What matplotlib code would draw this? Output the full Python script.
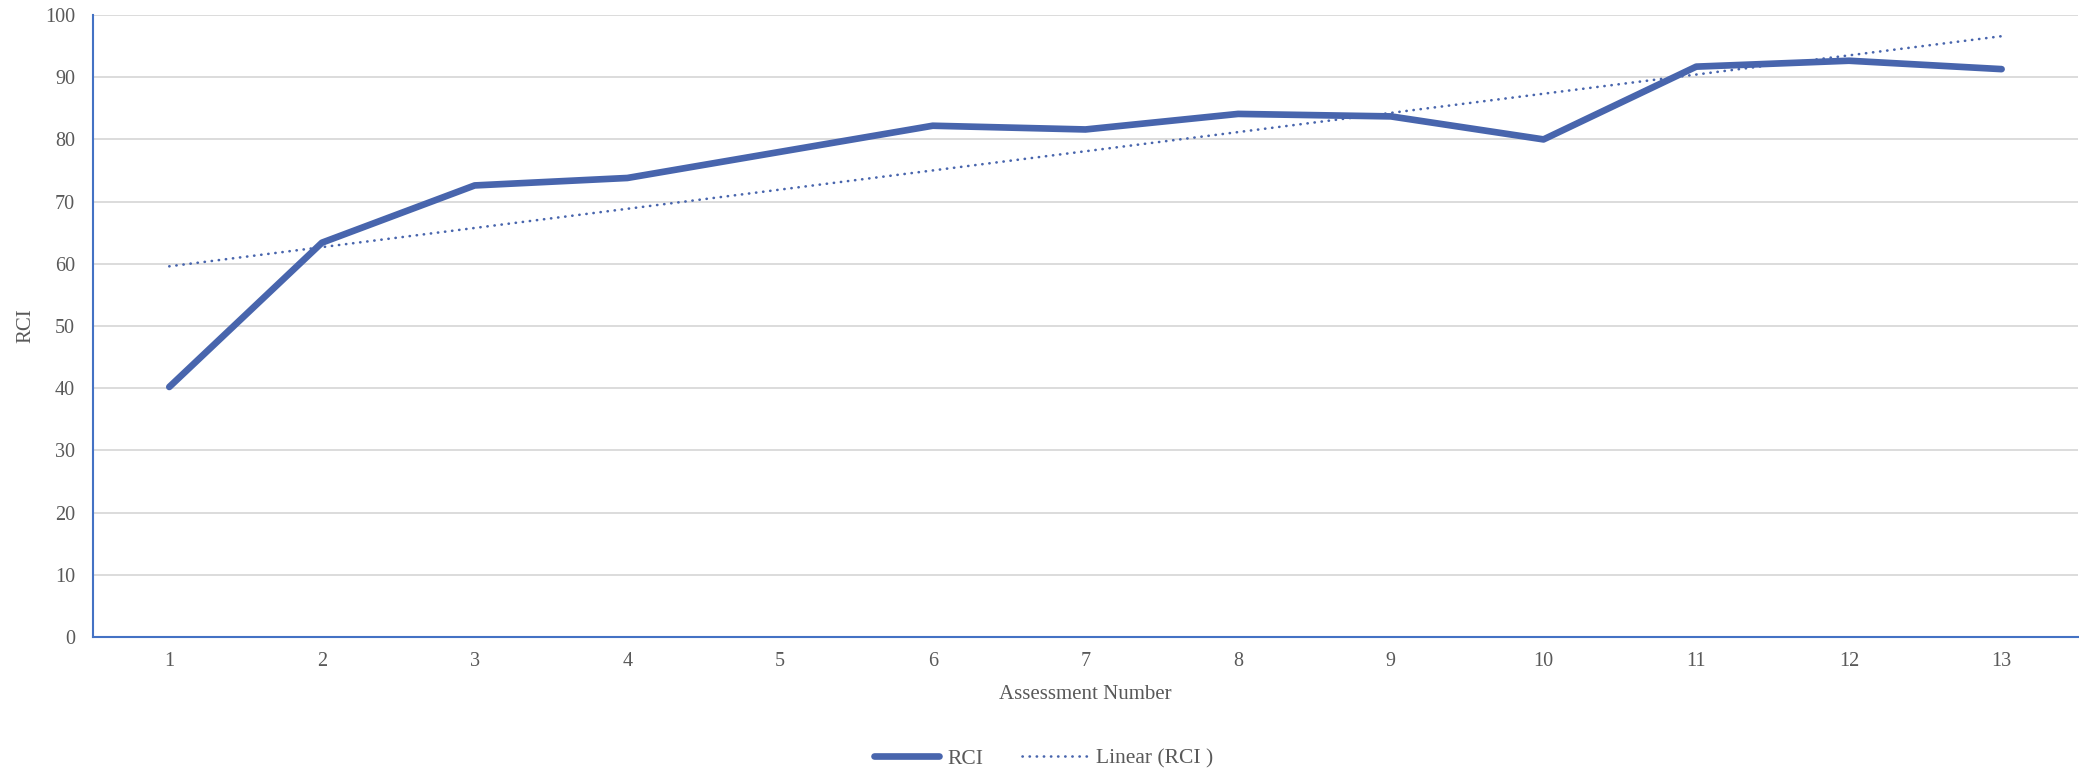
import numpy as np
import matplotlib
matplotlib.use("Agg")
import matplotlib.pyplot as plt

# assessment numbers and RCI scores
assessment = [1, 2, 3, 4, 5, 6, 7, 8, 9, 10, 11, 12, 13]
rci = [40.2, 63.4, 72.6, 73.8, 78.0, 82.2, 81.6, 84.1, 83.7, 80.0, 91.7, 92.65, 91.3]
y_ticks = [0, 10, 20, 30, 40, 50, 60, 70, 80, 90, 100]

line_color = "#4865ad"
axis_color = "#4472c4"
text_color = "#595959"

plt.rcParams["font.family"] = ["Liberation Serif", "DejaVu Serif"]

fig = plt.figure(figsize=(20.79, 7.74), dpi=100)
ax = fig.add_axes([0.0447, 0.177, 0.9548, 0.8036])

# linear trendline (least squares fit, like Excel)
slope, intercept = np.polyfit(assessment, rci, 1)
trend = [slope * x + intercept for x in assessment]

ax.plot(assessment, rci, color=line_color, lw=4.8, solid_capstyle="round",
        solid_joinstyle="round", label="RCI", zorder=3)
ax.plot(assessment, trend, color=line_color, lw=1.9, linestyle=(0, (0.1, 2.6)),
        dash_capstyle="round", label="Linear (RCI )", zorder=2)

ax.set_xlim(0.5, 13.5)
ax.set_ylim(0, 100)
ax.set_xticks(assessment)
ax.set_yticks(y_ticks)
ax.tick_params(axis="both", length=0, labelsize=14.5, labelcolor=text_color)
ax.tick_params(axis="y", pad=13)
ax.tick_params(axis="x", pad=11)

ax.grid(axis="y", color="#d9d9d9", lw=1.3)
ax.set_axisbelow(True)
for s in ["top", "right"]:
    ax.spines[s].set_visible(False)
for s in ["left", "bottom"]:
    ax.spines[s].set_color(axis_color)
    ax.spines[s].set_linewidth(1.5)
    ax.spines[s].set_zorder(4)

ax.set_xlabel("Assessment Number", fontsize=15, color=text_color, labelpad=10)
ax.set_ylabel("RCI", fontsize=15, color=text_color, labelpad=7)

leg = fig.legend(loc="lower center", bbox_to_anchor=(0.502, -0.018), ncol=2,
                 frameon=False, fontsize=15.5, handlelength=3.0,
                 handletextpad=0.4, columnspacing=1.8)
for t in leg.get_texts():
    t.set_color(text_color)

fig.savefig("out.png", dpi=100)
plt.close()
